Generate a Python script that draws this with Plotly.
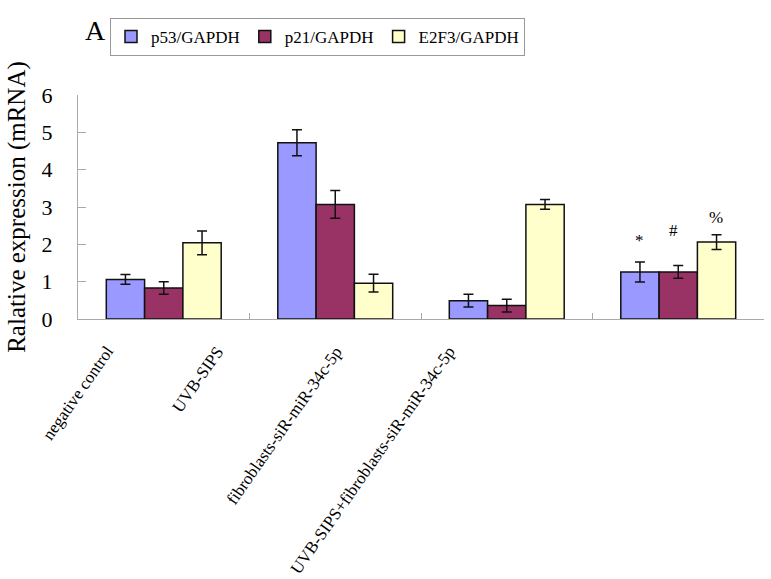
import plotly.graph_objects as go

categories = ["negative control", "UVB-SIPS", "fibroblasts-siR-miR-34c-5p",
              "UVB-SIPS+fibroblasts-siR-miR-34c-5p"]
series_names = ["p53/GAPDH", "p21/GAPDH", "E2F3/GAPDH"]
p53_vals = [1.06, 4.72, 0.49, 1.26]
p53_err = [0.13, 0.35, 0.17, 0.27]
p21_vals = [0.83, 3.07, 0.36, 1.26]
p21_err = [0.17, 0.37, 0.17, 0.17]
e2f3_vals = [2.04, 0.96, 3.07, 2.06]
e2f3_err = [0.32, 0.24, 0.13, 0.20]
y_ticks = [0, 1, 2, 3, 4, 5, 6]
sig_marks = ["*", "#", "%"]

colors = ["#9999FF", "#993366", "#FFFFCC"]
FONT = "Liberation Serif"

W, H = 771, 579
L, R, T, B = 78, 7, 95, 260
PW, PH = W - L - R, H - T - B

fig = go.Figure()
for name, vals, errs, col in zip(series_names, [p53_vals, p21_vals, e2f3_vals],
                                 [p53_err, p21_err, e2f3_err], colors):
    fig.add_trace(go.Bar(
        name=name, x=categories, y=vals,
        marker=dict(color=col, line=dict(color="#111111", width=1.5)),
        error_y=dict(type="data", array=errs, color="#111111", thickness=1.5, width=5),
    ))

# x tick labels as rotated annotations (placement mimics the original)
label_shifts = [-44, -105, -158, -217]
annotations = []
for cat, sh in zip(categories, label_shifts):
    annotations.append(dict(
        x=cat, y=0, xref="x", yref="y", text=cat, showarrow=False,
        textangle=-55, xanchor="right", yanchor="top", xshift=sh, yshift=-21,
        font=dict(family=FONT, size=17, color="black")))

# significance marks above the last group
mark_pos = [(-39, 2.10), (-5, 2.38), (38, 2.72)]
for m, (sh, yy) in zip(sig_marks, mark_pos):
    annotations.append(dict(
        x=categories[3], y=yy, xref="x", yref="y", text=m, showarrow=False,
        xshift=sh, font=dict(family=FONT, size=17, color="black")))

annotations.append(dict(
    x=(95 - L) / PW, y=(H - B - 30) / PH, xref="paper", yref="paper", text="A",
    xanchor="center", yanchor="middle",
    showarrow=False, font=dict(family=FONT, size=28, color="black")))

fig.update_layout(
    width=W, height=H,
    margin=dict(l=L, r=R, t=T, b=B, autoexpand=False),
    plot_bgcolor="white", paper_bgcolor="white",
    barmode="group", bargap=0.33, bargroupgap=0,
    font=dict(family=FONT, color="black"),
    showlegend=True,
    legend=dict(orientation="h", x=110 / W, y=1 - 18 / H,
                xref="container", yref="container",
                xanchor="left", yanchor="top",
                bordercolor="#999999", borderwidth=1,
                font=dict(family=FONT, size=17, color="black"),
                itemwidth=30, tracegroupgap=0),
    xaxis=dict(range=[-0.5, 3.5], autorange=False, automargin=False,
               showline=True, linecolor="#aaaaaa", linewidth=1,
               ticks="inside", tickson="boundaries", ticklen=6, tickcolor="#aaaaaa",
               showticklabels=False, showgrid=False, zeroline=False),
    yaxis=dict(range=[0, 6], autorange=False, automargin=False, tickvals=y_ticks,
               showline=True, linecolor="#aaaaaa",
               linewidth=1, ticks="inside", ticklen=8, tickcolor="#aaaaaa",
               showgrid=False, zeroline=False, ticklabelstandoff=20,
               tickfont=dict(family=FONT, size=22, color="black"),
               title=dict(text="Ralative expression (mRNA)", standoff=8,
                          font=dict(family=FONT, size=25, color="black"))),
    annotations=annotations,
)

fig.write_html("out.html", config={"displayModeBar": False},
               post_script="document.body.style.margin='0';")
